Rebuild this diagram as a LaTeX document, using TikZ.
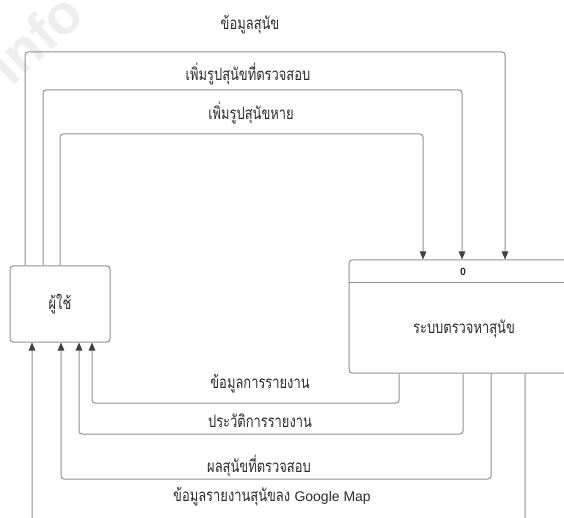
\documentclass[tikz,border=0pt]{standalone}
\usepackage{fontspec}
\usetikzlibrary{arrows.meta}
\newfontfamily\thaifont[Script=Thai,FakeStretch=0.76]{Loma}
\newfontfamily\latinfont{Liberation Sans}
\definecolor{linegray}{HTML}{8E9096}
\definecolor{tipgray}{HTML}{3E4148}
\definecolor{txt}{HTML}{2B2B2B}
\definecolor{wm}{HTML}{EEEEEE}
\tikzset{
  entity/.style={draw=linegray, line width=1pt, rounded corners=3pt, inner sep=0pt},
  flow/.style={draw=linegray, line width=1pt, rounded corners=3pt,
    -{Triangle[length=8pt,width=6.5pt,color=tipgray]}},
  lbl/.style={text=txt, font=\thaifont\fontsize{17}{19}\selectfont, inner sep=0pt},
}
\begin{document}
\begin{tikzpicture}[x=1pt,y=-1pt]
\useasboundingbox (0,0) rectangle (564,518);
\clip (0,0) rectangle (564,518);
% faint watermark
\node[text=wm, font=\latinfont\bfseries\fontsize{56}{56}\selectfont, rotate=42, anchor=base east]
  (wmark) at (90,16) {info};
% external entity and process
\node[entity, minimum width=100pt, minimum height=76pt] (user) at (60,304) {};
\node[lbl] (userlbl) at (user.center) {ผู้ใช้};
\node[entity, minimum width=228pt, minimum height=113pt] (sys) at (463,316.5) {};
\draw[draw=linegray, line width=1pt] ([yshift=-23pt]sys.north west) -- ([yshift=-23pt]sys.north east);
\node[text=txt, font=\latinfont\bfseries\fontsize{10.5}{12}\selectfont] (pid) at (463,271.5) {0};
\node[lbl] (syslbl) at (464,329) {ระบบตรวจหาสุนัข};
% corner points of the data flows
\coordinate (a1) at (60,134);  \coordinate (b1) at (423,134);
\coordinate (a2) at (43,90);   \coordinate (b2) at (462,90);
\coordinate (a3) at (25,52);   \coordinate (b3) at (505,52);
\coordinate (c1) at (399,403); \coordinate (d1) at (92,403);
\coordinate (c2) at (463,434); \coordinate (d2) at (79,434);
\coordinate (c3) at (491,479); \coordinate (d3) at (61,479);
\coordinate (c4) at (525,540); \coordinate (d4) at (32,540);
% flows from the user to the system
\draw[flow] (user.north -| a1) -- (a1) -- (b1) -- (sys.north -| b1);
\draw[flow] (user.north -| a2) -- (a2) -- (b2) -- (sys.north -| b2);
\draw[flow] (user.north -| a3) -- (a3) -- (b3) -- (sys.north -| b3);
% flows from the system to the user
\draw[flow] (sys.south -| c1) -- (c1) -- (d1) -- (user.south -| d1);
\draw[flow] (sys.south -| c2) -- (c2) -- (d2) -- (user.south -| d2);
\draw[flow] (sys.south -| c3) -- (c3) -- (d3) -- (user.south -| d3);
\draw[flow] (sys.south -| c4) -- (c4) -- (d4) -- (user.south -| d4);
% flow labels
\node[lbl] (l1) at (250,25) {ข้อมูลสุนัข};
\node[lbl] (l2) at (248,74) {เพิ่มรูปสุนัขที่ตรวจสอบ};
\node[lbl] (l3) at (251,113) {เพิ่มรูปสุนัขหาย};
\node[lbl] (l4) at (260,384) {ข้อมูลการรายงาน};
\node[lbl] (l5) at (260,421) {ประวัติการรายงาน};
\node[lbl] (l6) at (259,466) {ผลสุนัขที่ตรวจสอบ};
\node[lbl] (l7) at (272,497) {ข้อมูลรายงานสุนัขลง {\latinfont\fontsize{14}{16}\selectfont Google Map}};
\end{tikzpicture}
\end{document}
